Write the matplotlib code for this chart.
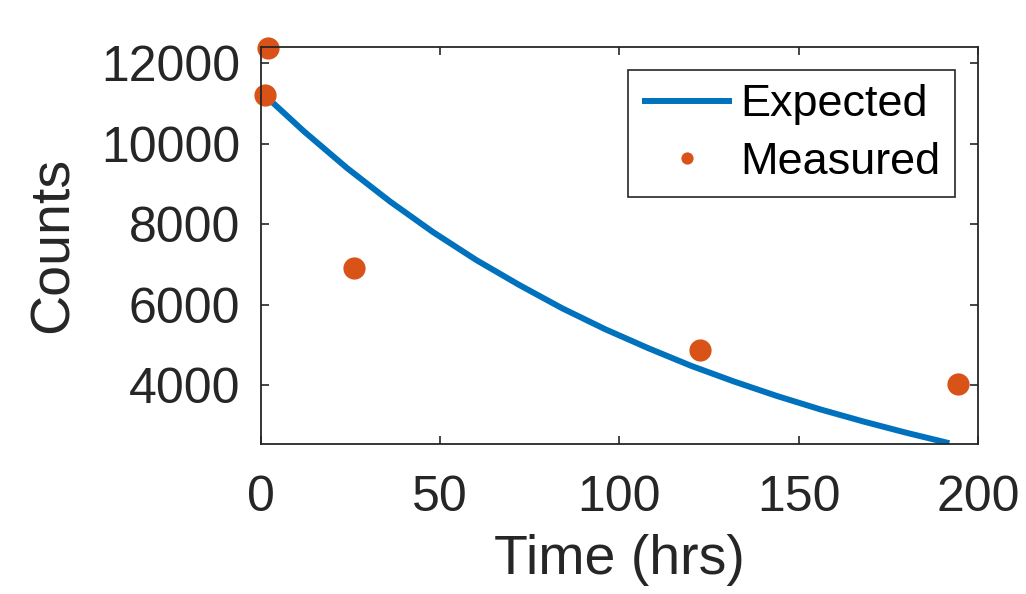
import matplotlib
matplotlib.use("Agg")
import matplotlib.pyplot as plt

# Expected curve
expected_t = [1, 12, 24, 36, 48, 60, 72, 84, 96, 108, 120, 132, 144, 156, 168, 180, 192]
expected_counts = [11200, 10300, 9390, 8560, 7800, 7110, 6490, 5910, 5390, 4920,
                   4480, 4090, 3730, 3400, 3100, 2820, 2560]

# Measured points
measured_t = [1, 2, 26, 122.5, 194.5]
measured_counts = [11205, 12370, 6900, 4886, 4040]

xticks = [0, 50, 100, 150, 200]
yticks = [4000, 6000, 8000, 10000, 12000]

plt.rcParams['font.family'] = ['Liberation Sans', 'DejaVu Sans']

fig = plt.figure(figsize=(10.26, 5.94), dpi=100)
ax = fig.add_axes([0.2544, 0.2525, 0.6988, 0.669])

ax.plot(expected_t, expected_counts, color='#0072BD', lw=4.3, label='Expected',
        solid_capstyle='butt')
ax.plot(measured_t, measured_counts, 'o', color='#D95319', ms=16, mec='none',
        label='Measured', clip_on=False)

ax.set_xlim(0, 200)
ax.set_ylim(2540, 12405)
ax.set_xticks(xticks)
ax.set_yticks(yticks)
ax.set_xticklabels([str(v) for v in xticks])
ax.set_yticklabels([str(v) for v in yticks])

ax.tick_params(direction='in', top=True, right=True, length=6, width=1.2,
               color='#262626', labelsize=36, labelcolor='#262626')
ax.tick_params(axis='x', pad=22)
ax.tick_params(axis='y', pad=15)
for s in ax.spines.values():
    s.set_color('#262626')
    s.set_linewidth(1.3)

ax.set_xlabel('Time (hrs)', fontsize=40, color='#262626', labelpad=10)
ax.set_ylabel('Counts', fontsize=40, color='#262626', labelpad=15)

leg = ax.legend(loc='upper right', fontsize=32.4, frameon=True, fancybox=False,
                edgecolor='#262626', framealpha=1, handlelength=2.0,
                handletextpad=0.18, borderpad=0.32, labelspacing=0.36,
                borderaxespad=0.52, markerscale=0.55)
leg.get_frame().set_linewidth(1.2)
for t in leg.get_texts():
    t.set_color('#000000')

fig.savefig('out.png', dpi=100)
